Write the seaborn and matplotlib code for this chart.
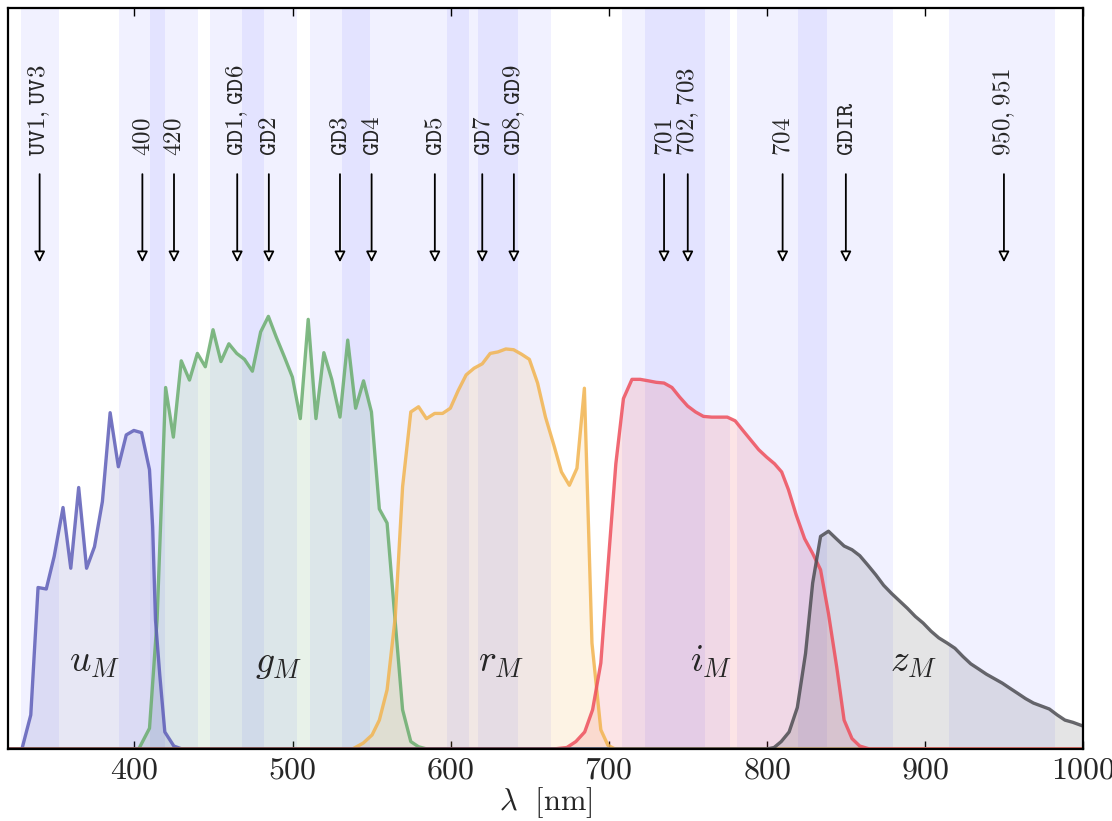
import numpy as np
import pandas as pd
import matplotlib
matplotlib.use("Agg")
import matplotlib.pyplot as plt
import seaborn as sns
from matplotlib.ticker import FuncFormatter, MultipleLocator

# ---------------- data ----------------
u_wl = [320, 328.8, 334.4, 339, 344.2, 349.2, 354.8, 359.7, 364.7, 369.7, 374.7, 379.7,
        384.6, 389.8, 394.8, 399.6, 404.5, 409.5, 411.5, 413.3, 416, 419.2, 424.9, 430, 1000]
u_tr = [0, 0, 0.046, 0.218, 0.216, 0.26, 0.326, 0.244, 0.353, 0.244, 0.273, 0.334,
        0.454, 0.381, 0.424, 0.43, 0.427, 0.377, 0.30, 0.174, 0.10, 0.023, 0.004, 0, 0]

g_wl = [320, 402.7, 409.5, 414.3, 419.7, 424.6, 429.6, 434.8, 439.8, 444.8, 449.7, 454.7,
        459.7, 464.7, 469.6, 474.6, 479.8, 484.7, 489.7, 494.9, 499.9, 504.9, 509.9,
        514.8, 519.8, 524.8, 530, 534.9, 539.9, 544.9, 549.9, 554.9, 559.8, 565, 569.6,
        574.8, 579.7, 585, 1000]
g_tr = [0, 0, 0.028, 0.174, 0.488, 0.421, 0.524, 0.498, 0.534, 0.516, 0.566, 0.523,
        0.547, 0.534, 0.526, 0.51, 0.563, 0.584, 0.556, 0.529, 0.502, 0.446, 0.58,
        0.446, 0.535, 0.499, 0.448, 0.552, 0.46, 0.497, 0.455, 0.324, 0.305, 0.17, 0.053,
        0.01, 0.003, 0, 0]

r_wl = [320, 537.9, 544.7, 550.3, 554.9, 559.8, 565, 569.6, 574.8, 579.7, 584.7, 589.9,
        594.9, 599.8, 604.8, 609.8, 614.8, 620, 625, 629.9, 634.9, 639.8, 644.8, 649.8,
        655, 660, 665.6, 670.1, 675.1, 679.9, 684.6, 689.4, 695, 699.5, 704, 1000]
r_tr = [0, 0, 0.008, 0.019, 0.039, 0.08, 0.179, 0.354, 0.455, 0.462, 0.446, 0.453,
        0.453, 0.46, 0.484, 0.505, 0.514, 0.52, 0.534, 0.536, 0.54, 0.539, 0.533, 0.526,
        0.494, 0.448, 0.408, 0.374, 0.356, 0.379, 0.487, 0.143, 0.026, 0.005, 0, 0]

i_wl = [320, 665, 673.5, 679.2, 684.8, 689.8, 695, 699.5, 704.5, 709.3, 714.7, 719.9,
        725.1, 730, 735, 740, 744.9, 749.9, 754.9, 759.9, 765.1, 770, 775, 780, 784.9,
        789.9, 794.9, 799.9, 804.9, 809.4, 813.7, 818.6, 823.9, 829, 834, 839, 844.2,
        848.9, 853.9, 858.8, 865, 1000]
i_tr = [0, 0, 0.002, 0.01, 0.023, 0.053, 0.116, 0.246, 0.385, 0.473, 0.499, 0.499,
        0.497, 0.495, 0.494, 0.488, 0.475, 0.463, 0.455, 0.449, 0.448, 0.448, 0.448, 0.443, 0.43,
        0.417, 0.404, 0.394, 0.385, 0.374, 0.35, 0.316, 0.284, 0.264, 0.242, 0.183, 0.111,
        0.039, 0.014, 0.004, 0, 0]

z_wl = [320, 800, 804.6, 809.1, 814.1, 819.3, 824.5, 829, 834, 839, 843.9, 848.9, 853.9,
        858.8, 864, 869, 873.9, 878.9, 883.9, 888.9, 893.9, 898.9, 903.9, 908.8, 914.1,
        919, 924, 929, 934, 938.9, 943.9, 948.9, 953.8, 958.8, 963.7, 968.7, 973.7, 978.7,
        983.7, 988.6, 993.6, 1000]
z_tr = [0, 0, 0.002, 0.01, 0.023, 0.056, 0.129, 0.224, 0.287, 0.294, 0.284, 0.274, 0.269,
        0.261, 0.248, 0.235, 0.221, 0.21, 0.2, 0.19, 0.179, 0.17, 0.159, 0.15, 0.143,
        0.136, 0.125, 0.115, 0.108, 0.101, 0.095, 0.089, 0.082, 0.075, 0.068, 0.062, 0.058, 0.054,
        0.046, 0.039, 0.036, 0.031]

band_names = ["u", "g", "r", "i", "z"]
band_labels = [r"$u_M$", r"$g_M$", r"$r_M$", r"$i_M$", r"$z_M$"]
band_label_x = [375, 491, 632, 765, 893]
band_colors = ["#5e5eb8", "#6aad6e", "#f2b450", "#ee4f5c", "#4d4d52"]

# narrow-band filters (shaded spans)
span_lo = [328, 390.5, 410, 448, 468, 511, 531, 569.5, 598, 617, 708.5, 723, 781, 819.5, 915.5]
span_hi = [352.5, 419.5, 440.5, 482, 502.5, 549, 569.5, 611.3, 642.3, 663.8, 760.6, 776.4, 838, 879.7, 982.3]

# filter markers (arrows)
filter_names = ["UV1, UV3", "400", "420", "GD1, GD6", "GD2", "GD3", "GD4", "GD5", "GD7",
                "GD8, GD9", "701", "702, 703", "704", "GDIR", "950, 951"]
filter_centers = [340, 405, 425, 465, 485, 530, 550, 590, 620, 640, 735, 750, 810, 850, 950]


def tt_label(name):
    parts = [r"\mathtt{" + p.strip() + "}" for p in name.split(",")]
    return "$" + r"{,}\;".join(parts) + "$"


# ---------------- plot ----------------
sns.set_style("ticks")
plt.rcParams["mathtext.fontset"] = "cm"
plt.rcParams["font.family"] = ["DejaVu Sans"]

fig = plt.figure(figsize=(11.12, 8.21), dpi=100)
ax = fig.add_axes([0.0072, 0.0877, 0.9667, 0.9023])

for lo, hi in zip(span_lo, span_hi):
    ax.axvspan(lo, hi, color="blue", alpha=0.055, lw=0, zorder=0)

curves = {"u": (u_wl, u_tr), "g": (g_wl, g_tr), "r": (r_wl, r_tr),
          "i": (i_wl, i_tr), "z": (z_wl, z_tr)}
order = ["g", "u", "r", "i", "z"]
for name in order:
    k = band_names.index(name)
    wl, tr = curves[name]
    df = pd.DataFrame({"wl": wl, "tr": tr})
    col = band_colors[k]
    ax.fill_between(df["wl"], 0, df["tr"], color=col, alpha=0.15, lw=0, zorder=1)
    sns.lineplot(data=df, x="wl", y="tr", ax=ax, color=col, lw=2.4, alpha=0.85,
                 sort=False, zorder=2)

for k in range(len(band_names)):
    ax.text(band_label_x[k], 0.104, band_labels[k], fontsize=27, ha="center",
            va="baseline", zorder=5)

y_txt, y_a0, y_a1 = 0.801, 0.776, 0.657
for name, c in zip(filter_names, filter_centers):
    ax.annotate("", xy=(c, y_a1), xytext=(c, y_a0),
                arrowprops=dict(arrowstyle="-|>", fc="white", ec="black", lw=1.3,
                                mutation_scale=16, shrinkA=0, shrinkB=0), zorder=6)
    ax.text(c, y_txt, tt_label(name), rotation=90,
            ha="center", va="bottom", fontsize=18, zorder=6)

ax.set_xlim(320, 1000)
ax.set_ylim(0, 1)
ax.xaxis.set_major_locator(MultipleLocator(100))
ax.xaxis.set_major_formatter(FuncFormatter(lambda v, p: r"$%d$" % v))
ax.set_yticks([])
ax.tick_params(axis="x", direction="in", top=True, bottom=True, length=6, width=1,
               labelsize=23, pad=4, color="black")
for s in ax.spines.values():
    s.set_visible(True)
    s.set_linewidth(1.6)
    s.set_color("black")
ax.set_xlabel(r"$\lambda\ \ [\mathrm{nm}]$", fontsize=22, labelpad=0)
ax.set_ylabel("")

fig.savefig("out.png", dpi=100)
